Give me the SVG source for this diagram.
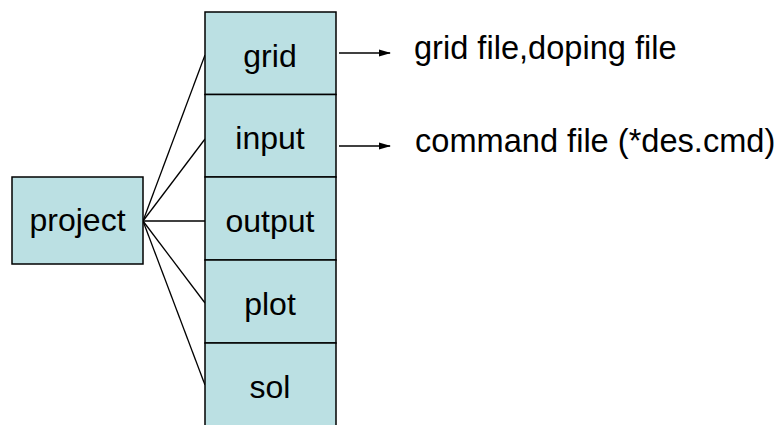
<svg xmlns="http://www.w3.org/2000/svg" width="777" height="425" viewBox="0 0 777 425">
  <style>
    .box { fill: #BBE0E3; stroke: #000; stroke-width: 1.5; }
    .label { font-family: "Liberation Sans", Arial, sans-serif; font-size: 32px; fill: #000; }
    .note { font-size: 32.6px; }
    .mid { text-anchor: middle; }
    .link { stroke: #000; stroke-width: 1.3; fill: none; }
    .arrow { stroke: #000; stroke-width: 1.5; fill: none; marker-end: url(#head); }
  </style>
  <defs>
    <marker id="head" markerWidth="12" markerHeight="8" refX="11" refY="4" orient="auto" markerUnits="userSpaceOnUse">
      <path d="M0,0.5 L12,4 L0,7.5 Z" fill="#000"/>
    </marker>
  </defs>
  <rect width="777" height="425" fill="#fff"/>

  <g id="connectors">
    <line class="link" x1="143" y1="221" x2="205" y2="55"/>
    <line class="link" x1="143" y1="221" x2="205" y2="139"/>
    <line class="link" x1="143" y1="221" x2="205" y2="221"/>
    <line class="link" x1="143" y1="221" x2="205" y2="303"/>
    <line class="link" x1="143" y1="221" x2="205" y2="385"/>
    <line class="arrow" x1="339" y1="53" x2="390" y2="53"/>
    <line class="arrow" x1="339" y1="146" x2="390" y2="146"/>
  </g>

  <g id="project">
    <rect class="box" x="12" y="177" width="131" height="87"/>
    <text class="label mid" x="77.5" y="231">project</text>
  </g>
  <g id="grid">
    <rect class="box" x="205" y="12" width="131" height="82.5"/>
    <text class="label mid" x="270" y="66.5">grid</text>
  </g>
  <g id="input">
    <rect class="box" x="205" y="94.5" width="131" height="82.5"/>
    <text class="label mid" x="270" y="148.5">input</text>
  </g>
  <g id="output">
    <rect class="box" x="205" y="177" width="131" height="83"/>
    <text class="label mid" x="270" y="232">output</text>
  </g>
  <g id="plot">
    <rect class="box" x="205" y="260" width="131" height="83"/>
    <text class="label mid" x="270" y="315">plot</text>
  </g>
  <g id="sol">
    <rect class="box" x="205" y="343" width="131" height="90"/>
    <text class="label mid" x="270" y="397.5">sol</text>
  </g>

  <g id="grid-files">
    <text class="label note" x="414" y="58.5">grid file,doping file</text>
  </g>
  <g id="input-files">
    <text class="label note" x="415" y="151.5">command file (*des.cmd)</text>
  </g>
</svg>
